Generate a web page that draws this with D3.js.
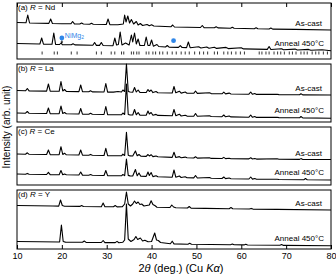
<!DOCTYPE html>
<meta charset="utf-8">
<style>
body { margin: 0; background: #fff; }
svg { font-family: "Liberation Sans", Arial, sans-serif; }
.trace { fill: none; stroke: #000; stroke-width: 1.1px; stroke-linejoin: round; }
.frame { fill: none; stroke: #000; stroke-width: 1px; }
.lbl { font-size: 8px; }
.axis text { font-size: 9px; font-family: "Liberation Sans", Arial, sans-serif; }
</style>
<svg width="336" height="276"></svg>
<script src="https://d3js.org/d3.v7.min.js"></script>
<script>

// 2theta ticks and panel names
var twoTheta = [10, 20, 30, 40, 50, 60, 70, 80];
var panelTags = ["(a)", "(b)", "(c)", "(d)"];
var elements = ["Nd", "La", "Ce", "Y"];

// traces: [2theta, intensity], intensity in arb. units per panel
var ndCast = [[10,36.5],[12.0,36.2],[12.4,44],[12.8,36],[15,35.8],[17.1,35.6],[17.5,40],[17.9,35.5],[20,35.3],[22.0,35.2],[22.4,37.5],[22.8,35.1],[24.0,35],[24.4,36],[24.8,35],[26.2,34.8],[26.6,35.8],[27,34.8],[29.9,34.5],[30.3,40],[30.7,34.4],[32.5,34.3],[33.7,35],[34.0,44],[34.3,37],[34.7,43],[35.1,36],[35.5,39.5],[36.0,35],[36.6,37.5],[37.0,34],[37.5,35.5],[38,33.5],[39,34.5],[39.5,33.3],[40,34.2],[40.5,33],[44.3,32.2],[44.7,34],[45.1,32],[48,31.8],[50.9,31.5],[51.3,33.5],[51.7,31.4],[54,31.2],[54.4,32.3],[54.8,31.1],[57.6,30.8],[58,31.8],[58.4,30.7],[62.9,30.3],[63.3,31.3],[63.7,30.2],[66.2,30],[66.6,31],[67,29.9],[72,29.6],[80,29]];
var ndAnneal = [[10,15.5],[15.1,15],[15.5,21],[15.9,14.8],[17.8,14.7],[18.2,26],[18.6,14.6],[19.5,14.5],[19.8,16],[20.1,14.4],[22.1,14.2],[22.5,15.3],[22.9,14.1],[26.9,13.7],[27.3,16.5],[27.7,13.6],[28.4,13.6],[28.8,16.5],[29.2,13.5],[31.4,13.3],[31.8,21],[32.2,14],[32.6,14.5],[33.0,27],[33.4,14],[34.2,16],[35.0,14],[35.5,24],[35.8,17],[36.2,26],[36.6,15],[37.0,20],[37.4,13.5],[38.4,13.5],[38.8,22],[39.2,13.5],[39.6,13.5],[40.0,19],[40.4,12.8],[41.2,14.5],[41.6,12.5],[43.1,12],[43.5,13.5],[43.9,11.9],[46,11.6],[46.4,13.3],[46.8,11.5],[47.8,11.4],[48.2,17],[48.6,11.3],[50.5,12.3],[51,11],[52.3,12],[52.8,10.8],[54,11.8],[54.5,10.6],[56.6,11.6],[57.1,10.4],[60,11.3],[60.5,10.1],[65.8,9.6],[66.2,12.5],[66.6,9.5],[69,10.3],[69.4,9.3],[72,9.9],[72.5,9],[75,9.6],[75.5,8.7],[78,9.2],[80,8.3]];
var laCast = [[10,31.5],[11.9,31.2],[12.3,33.5],[12.7,31.1],[16.6,30.9],[17.0,38],[17.4,30.8],[19.4,30.7],[19.8,40.5],[20.2,31],[20.6,32.5],[21,30.6],[23.8,30.4],[24.2,37],[24.6,30.3],[26,30.2],[26.4,31.3],[26.8,30.1],[29.4,30],[29.8,38.5],[30.2,29.9],[31.5,29.9],[32.5,30.5],[33.3,30],[33.6,32],[34.0,30.5],[34.4,58],[34.8,30.5],[35.2,30],[35.8,29.8],[36.2,34.5],[36.6,30],[37.0,32],[37.4,29.6],[38.8,29.5],[39.2,32.5],[39.5,30.5],[39.9,32],[40.3,29.4],[41,30.5],[41.4,29.3],[44.6,29],[45.0,35.5],[45.4,29.2],[46.2,30.8],[46.6,28.9],[47.5,30],[47.9,28.8],[49.4,28.7],[49.8,31],[50.2,28.6],[52.9,29.3],[53.3,28.4],[55.7,28.2],[56.1,29.8],[56.5,28.1],[57.3,28.9],[57.7,28],[61.7,27.8],[62.1,30],[62.5,27.7],[63,28.5],[63.4,27.6],[68,27.8],[68.4,27.4],[73,27.2],[73.3,28.3],[73.7,27.1],[80,27]];
var laAnneal = [[10,9],[11.9,8.8],[12.3,10.5],[12.7,8.7],[16.6,8.5],[17.0,14],[17.4,8.4],[19.4,8.3],[19.8,16],[20.2,8.5],[20.6,9.5],[21,8.2],[23.8,8],[24.2,13.5],[24.6,7.9],[26,7.8],[26.4,8.8],[26.8,7.7],[29.4,7.5],[29.8,15.5],[30.2,7.4],[33.3,7.2],[33.6,9],[34.0,7.5],[34.4,38],[34.8,7.5],[35.2,7.1],[35.8,7],[36.2,12.5],[36.6,7.2],[37.0,9.5],[37.4,6.9],[38.8,6.8],[39.2,11],[39.5,8],[39.9,9.5],[40.3,6.7],[41,7.6],[41.4,6.6],[44.6,6.2],[45.0,12.5],[45.4,6.3],[46.2,7.8],[46.6,6],[47.5,6.8],[47.9,5.9],[49.4,5.8],[49.8,8.5],[50.2,5.7],[52.9,6.3],[53.3,5.5],[55.7,5.3],[56.1,7],[56.5,5.2],[57.3,6],[57.7,5.1],[61.7,4.8],[62.1,7],[62.5,4.7],[63,5.5],[63.4,4.6],[68,4.7],[68.4,4.4],[73,4.2],[73.3,5.5],[73.7,4.1],[80,3.8]];
var ceCast = [[10,31],[11.9,30.8],[12.3,32.2],[12.7,30.7],[16.6,30.5],[17.0,35],[17.4,30.4],[19.4,30.3],[19.8,38.3],[20.2,30.5],[20.6,31.8],[21,30.2],[23.8,30],[24.2,35],[24.6,29.9],[26,29.8],[26.4,30.6],[26.8,29.7],[29.4,29.5],[29.8,36.7],[30.2,29.4],[33.3,29.2],[33.6,30.8],[34.0,29.5],[34.4,52.7],[34.8,29.8],[35.2,29.1],[35.8,29],[36.4,34],[36.8,29.2],[37.2,30.5],[37.6,28.8],[38.8,28.6],[39.2,30.5],[39.5,29],[39.9,30.3],[40.3,28.4],[41,29],[41.4,28.3],[44.6,27.6],[45.0,32.7],[45.4,27.5],[46.2,28.4],[46.6,27.3],[47.5,27.9],[47.9,27.2],[49.4,27],[49.8,28.3],[50.2,26.9],[52.9,27.3],[53.3,26.6],[55.7,26.5],[56.1,27.6],[56.5,26.4],[57.3,26.8],[57.7,26.3],[61.7,26.1],[62.1,27.3],[62.5,26],[63,26.5],[63.4,25.9],[68,26.2],[68.4,25.8],[73,25.6],[73.3,26.4],[73.7,25.5],[80,25.5]];
var ceAnneal = [[10,11],[11.9,10.8],[12.3,11.6],[12.7,10.7],[16.6,10.5],[17.0,12.7],[17.4,10.4],[19.4,10.3],[19.8,14.5],[20.2,10.3],[20.6,11],[21,10.2],[23.8,10],[24.2,13],[24.6,9.9],[26,9.8],[26.4,10.4],[26.8,9.7],[29.4,9.5],[29.8,14.5],[30.2,9.4],[33.3,9.2],[33.6,10.5],[34.0,9.4],[34.4,26],[34.8,9.6],[35.2,9.1],[35.8,9],[36.4,15.5],[36.8,9.2],[37.2,12],[37.6,8.8],[38.8,8.6],[39.2,13],[39.5,9.5],[39.9,12.5],[40.3,8.4],[41,9.3],[41.4,8.2],[44.6,7.8],[45.0,15],[45.4,7.8],[46.2,9],[46.6,7.5],[47.5,8.2],[47.9,7.3],[49.4,7.1],[49.8,9.5],[50.2,7],[52.9,7.5],[53.3,6.7],[55.7,6.5],[56.1,8],[56.5,6.4],[57.3,7],[57.7,6.3],[61.7,6],[62.1,8],[62.5,5.9],[63,6.5],[63.4,5.8],[68,5.8],[68.4,5.5],[74,5.3],[74.3,6.5],[74.7,5.2],[80,5]];
var yCast = [[10,43.5],[14,43.3],[18,43],[19.3,42.9],[19.7,49],[20.1,43.5],[20.6,42.8],[24,42.6],[24.4,43.5],[24.8,42.5],[28.8,42.3],[29.2,46],[29.6,42.2],[31.5,42.2],[31.9,43.5],[32.3,42.1],[33.5,42.3],[34.0,45],[34.4,57],[34.8,45],[35.3,43],[35.8,45],[36.2,48],[36.6,45.5],[37.0,47],[37.4,44.5],[37.8,45],[38.3,43],[39.5,44],[39.9,48.3],[40.3,44.5],[40.8,43.2],[41.2,41.8],[44.1,41.5],[44.5,44],[44.9,42],[45.4,41.2],[48,41],[48.4,42.5],[48.8,40.8],[52,40.6],[57.3,40.3],[57.7,41.5],[58.1,40.2],[61.8,40],[62.2,40.6],[62.6,39.9],[68,39.6],[80,39]];
var yAnneal = [[10,7.5],[15,7.2],[19.5,7],[19.9,24],[20.3,7.5],[20.8,6.9],[24.6,6.7],[25,8],[25.4,6.6],[28.8,6.5],[29.2,8.5],[29.6,6.4],[31.9,6.4],[32.3,7.6],[32.7,6.3],[33.6,6.8],[34.0,9],[34.4,45],[34.8,10],[35.4,7.5],[36.1,9.5],[36.5,12.5],[36.9,9.5],[37.5,11],[38,8],[38.5,8.8],[39.2,7.2],[40.0,7.5],[40.7,16],[41.1,9],[41.5,8.5],[42,6.5],[44.2,5.2],[44.6,7.8],[45,5.1],[48.1,4.8],[48.5,5.7],[48.9,4.7],[57.6,4.3],[58,5],[58.4,4.2],[60.6,4.1],[61,4.8],[61.4,4],[68.6,3.7],[69,4.4],[69.4,3.6],[80,3.2]];

// Bragg positions marked under the Nd anneal pattern
var ndRefs = [15.6,18.3,19.0,22.1,23.4,27.7,28.8,31.0,31.8,33.3,33.8,35.5,36.0,36.7,37.2,38.8,39.4,40.3,40.9,41.8,42.5,43.5,44.6,45.5,46.6,47.5,48.4,49.6,50.7,51.6,52.5,54.0,54.7,56.1,57.0,57.8,58.8,59.8,60.7,64.0,64.6,65.5,66.2,67.3,68.1,68.8,69.6,70.7,71.4,72.2,73.3,74.0,74.7,75.8,76.6,77.3,78.3,79.2];
// NiMg2 peaks [2theta, marker height]
var nimg2 = [[20.0, 21], [44.9, 18.3]];

var casts = [ndCast, laCast, ceCast, yCast],
    anneals = [ndAnneal, laAnneal, ceAnneal, yAnneal];

var svg = d3.select("svg");

var tops = [3, 64, 127, 190],
    bottoms = [59, 122, 185, 249];

var x = d3.scaleLinear().domain([10, 80]).range([17, 331]);

tops.forEach(function(top, i) {
  var bottom = bottoms[i];
  var y = d3.scaleLinear().domain([0, bottom - top]).range([bottom, top]);
  var line = d3.line()
      .x(function(d) { return x(d[0]); })
      .y(function(d) { return y(d[1]); });

  var g = svg.append("g");

  g.append("path").attr("class", "trace").attr("d", line(casts[i]));
  g.append("path").attr("class", "trace").attr("d", line(anneals[i]));

  g.append("rect")
      .attr("class", "frame")
      .attr("x", x(10)).attr("y", top)
      .attr("width", x(80) - x(10)).attr("height", bottom - top);

  var tag = g.append("text").attr("class", "lbl")
      .attr("x", 18).attr("y", top + 7);
  tag.append("tspan").text(panelTags[i] + "  ");
  tag.append("tspan").attr("font-style", "italic").text("R");
  tag.append("tspan").text(" = " + elements[i]);

  var lastC = casts[i][casts[i].length - 1],
      lastA = anneals[i][anneals[i].length - 1];
  g.append("text").attr("class", "lbl")
      .attr("text-anchor", "end")
      .attr("x", 322).attr("y", y(lastC[1]) - 4)
      .text("As-cast");
  g.append("text").attr("class", "lbl")
      .attr("text-anchor", "end")
      .attr("x", 324).attr("y", y(lastA[1]) - 5)
      .text("Anneal 450°C");

  if (i === 0) {
    g.selectAll(".ref")
      .data(ndRefs)
      .enter().append("line")
        .attr("class", "ref")
        .attr("x1", function(d) { return x(d); })
        .attr("x2", function(d) { return x(d); })
        .attr("y1", y(4.5)).attr("y2", y(7.5))
        .attr("stroke", "#000").attr("stroke-width", 0.8);

    g.append("line")
        .attr("x1", x(nimg2[0][0])).attr("x2", x(nimg2[0][0]))
        .attr("y1", y(nimg2[0][1]) + 2).attr("y2", y(15.5))
        .attr("stroke", "#000").attr("stroke-width", 0.6);
    g.append("path")
        .attr("d", "M" + (x(nimg2[0][0]) - 1.3) + "," + (y(15.5) - 2) +
                   "L" + (x(nimg2[0][0]) + 1.3) + "," + (y(15.5) - 2) +
                   "L" + x(nimg2[0][0]) + "," + y(15.5) + "Z")
        .attr("fill", "#000");

    g.selectAll(".dot")
      .data(nimg2)
      .enter().append("circle")
        .attr("class", "dot")
        .attr("cx", function(d) { return x(d[0]); })
        .attr("cy", function(d) { return y(d[1]); })
        .attr("r", 2.4)
        .attr("fill", "#2f86e8");

    var nm = g.append("text")
        .attr("x", x(nimg2[0][0]) + 3).attr("y", y(nimg2[0][1]) - 0.5)
        .attr("font-size", "7px").attr("fill", "#2f86e8");
    nm.append("tspan").text("NiMg");
    nm.append("tspan").attr("font-size", "5px").attr("dy", 1.5).text("2");

    g.append("g")
        .attr("class", "axis")
        .attr("transform", "translate(0," + top + ")")
        .call(d3.axisTop(x).tickValues(twoTheta).tickSize(-4).tickFormat(""))
        .call(function(a) { a.select(".domain").remove(); });
  }

  if (i === 3) {
    g.append("g")
        .attr("class", "axis")
        .attr("transform", "translate(0," + bottom + ")")
        .call(d3.axisBottom(x).tickValues(twoTheta).tickSize(-4).tickPadding(4))
        .call(function(a) { a.select(".domain").remove(); });
  }
});

svg.append("text")
    .attr("transform", "translate(10,127) rotate(-90)")
    .attr("text-anchor", "middle")
    .attr("font-size", "10px")
    .text("Intensity (arb. unit)");

var xt = svg.append("text")
    .attr("x", 181).attr("y", 272)
    .attr("text-anchor", "middle")
    .attr("font-size", "11px");
xt.append("tspan").text("2");
xt.append("tspan").attr("font-style", "italic").text("θ");
xt.append("tspan").text(" (deg.) (Cu ");
xt.append("tspan").attr("font-style", "italic").text("Kα");
xt.append("tspan").text(")");

</script>
